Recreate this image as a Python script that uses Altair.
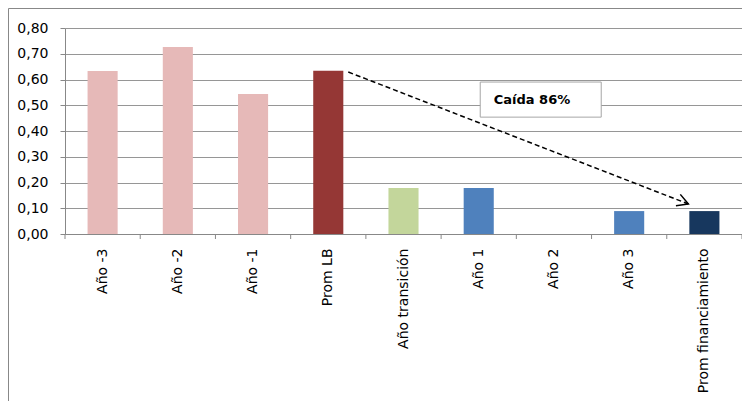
import altair as alt
import pandas as pd

categories = ["Año -3", "Año -2", "Año -1", "Prom LB", "Año transición",
              "Año 1", "Año 2", "Año 3", "Prom financiamiento"]
values = [0.633, 0.726, 0.544, 0.634, 0.179, 0.179, 0.0, 0.089, 0.089]
colors = ["#E6B9B8", "#E6B9B8", "#E6B9B8", "#953735", "#C3D69B",
          "#4F81BD", "#4F81BD", "#4F81BD", "#17375E"]
y_ticks = [0.0, 0.1, 0.2, 0.3, 0.4, 0.5, 0.6, 0.7, 0.8]

arrow_from = ("Prom LB", 0.629)
arrow_to = ("Prom financiamiento", 0.1165)
note_text = "Caída 86%"
note_anchor = ("Año 1", 0.522)

W, H = 677, 206
FONT = "DejaVu Sans"
GRID = "#969696"

xscale = alt.Scale(domain=categories, paddingInner=0, paddingOuter=0)
yscale = alt.Scale(domain=[0, 0.8], nice=False)

x_axis = alt.Axis(labelAngle=-90, ticks=False, tickSize=0, labelPadding=14, grid=False,
                  labelFont=FONT, labelFontSize=14, labelColor="#000", labelLimit=300,
                  labelOverlap=False, domainColor="#888")
y_axis = alt.Axis(values=y_ticks, grid=True, gridColor=GRID, tickSize=5, tickColor="#888",
                  labelPadding=12, labelFont=FONT, labelFontSize=14, labelColor="#000",
                  labelOverlap=False, domainColor="#888",
                  labelExpr="replace(format(datum.value, '.2f'), '.', ',')")


def X(**kw):
    return alt.X("cat:N", scale=xscale, sort=categories, title=None, axis=x_axis, **kw)


def Y():
    return alt.Y("val:Q", scale=yscale, title=None, axis=y_axis)


bars_df = pd.DataFrame({"cat": categories, "val": values})
bars = alt.Chart(bars_df).mark_bar(width=alt.RelativeBandSize(0.4)).encode(
    x=X(), y=Y(),
    color=alt.Color("cat:N", scale=alt.Scale(domain=categories, range=colors), legend=None),
)

xticks = alt.Chart(bars_df).mark_rule(color="#888").encode(
    x=X(bandPosition=0), y=alt.value(H), y2=alt.value(H + 5),
)
last_tick = alt.Chart(bars_df.tail(1)).mark_rule(color="#888").encode(
    x=X(bandPosition=1), y=alt.value(H), y2=alt.value(H + 5),
)

arrow_df = pd.DataFrame({"cat": [arrow_from[0]], "val": [arrow_from[1]],
                         "cat2": [arrow_to[0]], "val2": [arrow_to[1]]})
arrow = alt.Chart(arrow_df).mark_rule(
    color="black", strokeWidth=1.5, strokeDash=[5, 3], xOffset=20, x2Offset=-16
).encode(x=X(), x2="cat2:N", y=Y(), y2="val2:Q")

head_df = pd.DataFrame({"cat": [arrow_to[0]], "val": [arrow_to[1]]})
head = alt.Chart(head_df).mark_point(
    shape="M -1 -0.55 L 0 0 L -1 0.55", filled=False, color="black",
    strokeWidth=1.5, opacity=1, size=484, angle=21.2, xOffset=-16
).encode(x=X(), y=Y())

note_df = pd.DataFrame({"cat": [note_anchor[0]], "val": [note_anchor[1]], "txt": [note_text]})
box = alt.Chart(note_df).mark_point(
    shape="M -1 -0.29 L 1 -0.29 L 1 0.29 L -1 0.29 Z", filled=True, fill="white",
    stroke="#a6a6a6", strokeWidth=1, opacity=1, fillOpacity=1, size=14641, xOffset=62
).encode(x=X(), y=Y())
label = alt.Chart(note_df).mark_text(
    align="left", baseline="middle", dx=15, font=FONT, fontSize=13,
    fontWeight="bold", color="black"
).encode(x=X(), y=Y(), text="txt:N")

frame = alt.Chart(bars_df.head(1)).mark_rect(
    fillOpacity=0, stroke="#888", strokeWidth=1
).encode(
    x=alt.value(-56.5), x2=alt.value(W + 40), y=alt.value(-19.5), y2=alt.value(H + 200),
)

chart = alt.layer(bars, xticks, last_tick, arrow, head, box, label, frame).properties(
    width=W, height=H,
    autosize=alt.AutoSizeParams(type="none"),
    padding={"left": 57, "top": 20, "right": 0, "bottom": 167},
    background="white",
).configure_view(stroke=None)

chart.save("out.html", embed_options={"renderer": "svg", "actions": False})
